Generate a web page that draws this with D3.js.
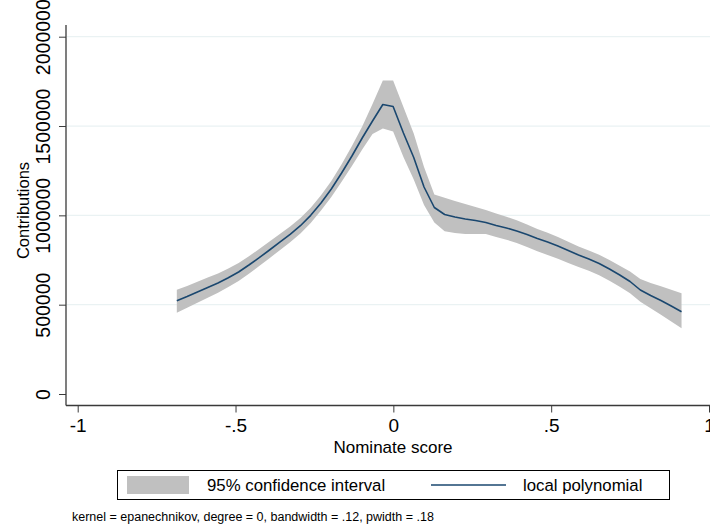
<!DOCTYPE html>
<html>
<head>
<meta charset="utf-8">
<script src="https://cdn.jsdelivr.net/npm/d3@7"></script>
<style>
  html, body { margin: 0; padding: 0; background: #ffffff; }
  svg { display: block; font-family: "Liberation Sans", Arial, sans-serif; }
</style>
</head>
<body>
<svg id="chart" width="710" height="529"></svg>
<script>
// Local polynomial smooth of contributions on Nominate score (50 grid points)
const gridStart = -0.686;
const gridEnd = 0.913;
const smooth = [
  522200, 545700, 570900, 596100, 621300, 650400, 682900, 722000, 763000, 806000,
  850000, 893000, 942000, 1000000, 1069100, 1147500, 1237000, 1332200, 1432900, 1528100,
  1620500, 1609300, 1460900, 1323800, 1158700, 1043900, 1004700, 990700, 979500, 971100,
  960000, 943200, 929200, 912400, 892800, 870400, 850800, 828400, 803200, 778000,
  755600, 730500, 699700, 666100, 629700, 582100, 551300, 523400, 492600, 460700
];
const ciUpper = [
  583800, 605000, 628000, 651500, 675000, 702500, 733300, 771300, 811100, 853000,
  895900, 937800, 985700, 1043100, 1112200, 1192300, 1286300, 1388200, 1497300, 1623300,
  1754800, 1754800, 1606400, 1458100, 1270600, 1116700, 1098200, 1080300, 1063500, 1046700,
  1030000, 1010400, 992500, 972300, 949300, 924100, 902300, 878200, 851900, 826100,
  803700, 779200, 749500, 718200, 685700, 643700, 621300, 602900, 583300, 563700
];
const ciLower = [
  455000, 482400, 511000, 539000, 567000, 598300, 632500, 673300, 716000, 760100,
  805200, 849300, 898900, 957500, 1026600, 1102700, 1187700, 1276200, 1368500, 1455300,
  1486200, 1469400, 1326600, 1200700, 1057900, 959900, 911200, 901100, 895500, 895500,
  895600, 878800, 863700, 845200, 823400, 798800, 778000, 756800, 733800, 710800,
  689600, 665000, 634200, 600600, 564200, 516100, 479700, 443900, 405300, 367800
];
const xTicks = [-1, -0.5, 0, 0.5, 1];
const xTickLabels = ["-1", "-.5", "0", ".5", "1"];
const yTicks = [0, 500000, 1000000, 1500000, 2000000];
const yGrid = [500000, 1000000, 1500000, 2000000];
const legendLabels = ["95% confidence interval", "local polynomial"];
const note = "kernel = epanechnikov, degree = 0, bandwidth = .12, pwidth = .18";

const n = smooth.length;
const xs = d3.range(n).map(i => gridStart + i * (gridEnd - gridStart) / (n - 1));
const rows = xs.map((x, i) => ({ x, y: smooth[i], lo: ciLower[i], hi: ciUpper[i] }));

const svg = d3.select("#chart");
const x = d3.scaleLinear().domain([-1, 1]).range([77.7, 709]);
const y = d3.scaleLinear().domain([0, 2000000]).range([394, 36.7]);
const plotLeft = 66, plotRight = 710, plotTop = 25, plotBottom = 405.5;

const bandColor = "#c0c0c0";
const lineColor = "#1a476f";
const gridColor = "#eaf2f3";
const axisColor = "#3a3a3a";

// horizontal gridlines
svg.append("g").selectAll("line").data(yGrid).join("line")
  .attr("x1", plotLeft + 1).attr("x2", plotRight)
  .attr("y1", d => y(d)).attr("y2", d => y(d))
  .attr("stroke", gridColor).attr("stroke-width", 1.2);

// confidence band
svg.append("path").datum(rows)
  .attr("fill", bandColor)
  .attr("d", d3.area().x(d => x(d.x)).y0(d => y(d.lo)).y1(d => y(d.hi)));

// smoothed line
svg.append("path").datum(rows)
  .attr("fill", "none").attr("stroke", lineColor).attr("stroke-width", 1.6)
  .attr("stroke-linejoin", "round")
  .attr("d", d3.line().x(d => x(d.x)).y(d => y(d.y)));

// y axis
const yAxis = svg.append("g").attr("transform", `translate(${plotLeft},0)`)
  .call(d3.axisLeft(y).tickValues(yTicks).tickSize(7).tickFormat(d3.format("d")));
yAxis.select(".domain").remove();
yAxis.selectAll(".tick line").attr("stroke", axisColor);
yAxis.selectAll(".tick text")
  .attr("transform", "rotate(-90)")
  .attr("x", 0).attr("y", -16).attr("dy", 0)
  .attr("text-anchor", "middle")
  .attr("font-size", 19.5).attr("fill", "#000");
svg.append("line").attr("x1", plotLeft).attr("x2", plotLeft)
  .attr("y1", plotTop).attr("y2", plotBottom)
  .attr("stroke", axisColor).attr("stroke-width", 1.3);

// x axis
const xAxis = svg.append("g").attr("transform", `translate(0,${plotBottom})`)
  .call(d3.axisBottom(x).tickValues(xTicks).tickSize(7).tickFormat((d, i) => xTickLabels[i]));
xAxis.select(".domain").remove();
xAxis.selectAll(".tick line").attr("stroke", axisColor);
xAxis.selectAll(".tick text")
  .attr("y", 26.5).attr("dy", 0)
  .attr("font-size", 19).attr("fill", "#000");
svg.append("line").attr("x1", plotLeft).attr("x2", plotRight)
  .attr("y1", plotBottom).attr("y2", plotBottom)
  .attr("stroke", axisColor).attr("stroke-width", 1.3);

// axis titles
svg.append("text").attr("x", 393).attr("y", 453)
  .attr("text-anchor", "middle").attr("font-size", 17).text("Nominate score");
svg.append("text").attr("transform", "translate(29,210.5) rotate(-90)")
  .attr("text-anchor", "middle").attr("font-size", 16.5).text("Contributions");

// legend
const lg = svg.append("g");
lg.append("rect").attr("x", 117.5).attr("y", 470.5).attr("width", 552).attr("height", 29)
  .attr("fill", "#fff").attr("stroke", "#000").attr("stroke-width", 1);
lg.append("rect").attr("x", 127).attr("y", 476).attr("width", 62).attr("height", 18)
  .attr("fill", bandColor);
lg.append("text").attr("x", 207).attr("y", 491).attr("font-size", 16.8).text(legendLabels[0]);
lg.append("line").attr("x1", 431).attr("x2", 506).attr("y1", 485).attr("y2", 485)
  .attr("stroke", lineColor).attr("stroke-width", 1.6);
lg.append("text").attr("x", 523).attr("y", 491).attr("font-size", 16.8).text(legendLabels[1]);

// note
svg.append("text").attr("x", 72).attr("y", 521).attr("font-size", 12.5).text(note);
</script>
</body>
</html>
